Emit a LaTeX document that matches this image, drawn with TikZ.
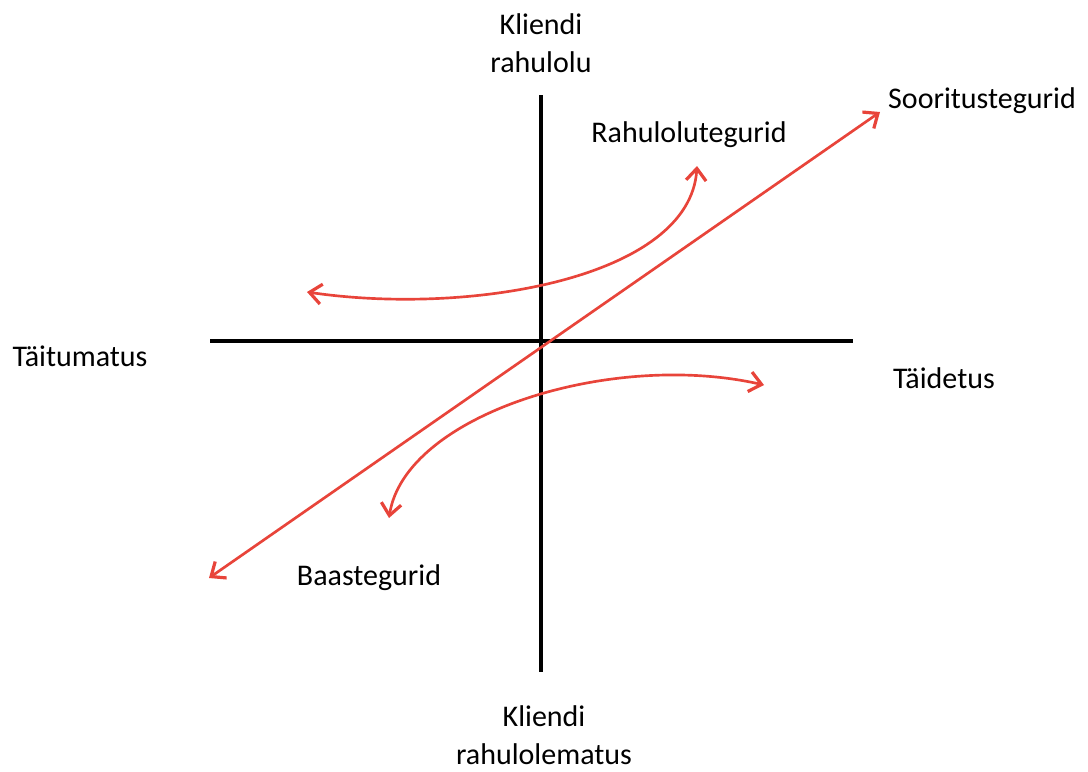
\documentclass[tikz,border=0pt]{standalone}
\usepackage{fontspec}
\setmainfont{Carlito}
\usetikzlibrary{arrows.meta}
\definecolor{arrowred}{RGB}{232,68,58}
\tikzset{
  axis/.style={line width=2.8pt, black},
  barb/.tip={Straight Barb[length=9pt,width=15pt,line width=2.4pt]},
  redarrow/.style={draw=arrowred, line width=2pt, arrows={barb-barb}},
  lbl/.style={font=\fontsize{22.5}{28.5}\selectfont, align=center, inner sep=0pt}
}
\begin{document}
\begin{tikzpicture}[x=0.75pt,y=-0.75pt]
  \useasboundingbox (0,0) rectangle (1088,771);
  % axes
  \coordinate (vtop) at (541,95);
  \coordinate (vbot) at (541,672);
  \coordinate (hleft) at (210,341);
  \coordinate (hright) at (853,341);
  \draw[axis] (vtop) -- (vbot);
  \draw[axis] (hleft) -- (hright);
  % performance factors line
  \coordinate (dlow) at (209,578);
  \coordinate (dhigh) at (880,112);
  \draw[redarrow] (dlow) -- (dhigh);
  % excitement factors curve
  \coordinate (eleft) at (307,292);
  \coordinate (etop) at (697,166);
  \draw[redarrow] (eleft) .. controls (470,316) and (690,278) .. (etop);
  % basic factors curve
  \coordinate (bleft) at (389,518);
  \coordinate (bright) at (764,385);
  \draw[redarrow] (bleft) .. controls (405,415) and (610,350) .. (bright);
  % labels
  \node[lbl] (top) at (541,43) {Kliendi\\rahulolu};
  \node[lbl] (bottom) at (544,735) {Kliendi\\rahulolematus};
  \node[lbl] (left) at (80,356) {Täitumatus};
  \node[lbl] (right) at (944,378) {Täidetus};
  \node[lbl] (excite) at (689,135) {Rahulolutegurid};
  \node[lbl] (perf) at (982,101) {Sooritustegurid};
  \node[lbl] (basic) at (369,578) {Baastegurid};
\end{tikzpicture}
\end{document}
